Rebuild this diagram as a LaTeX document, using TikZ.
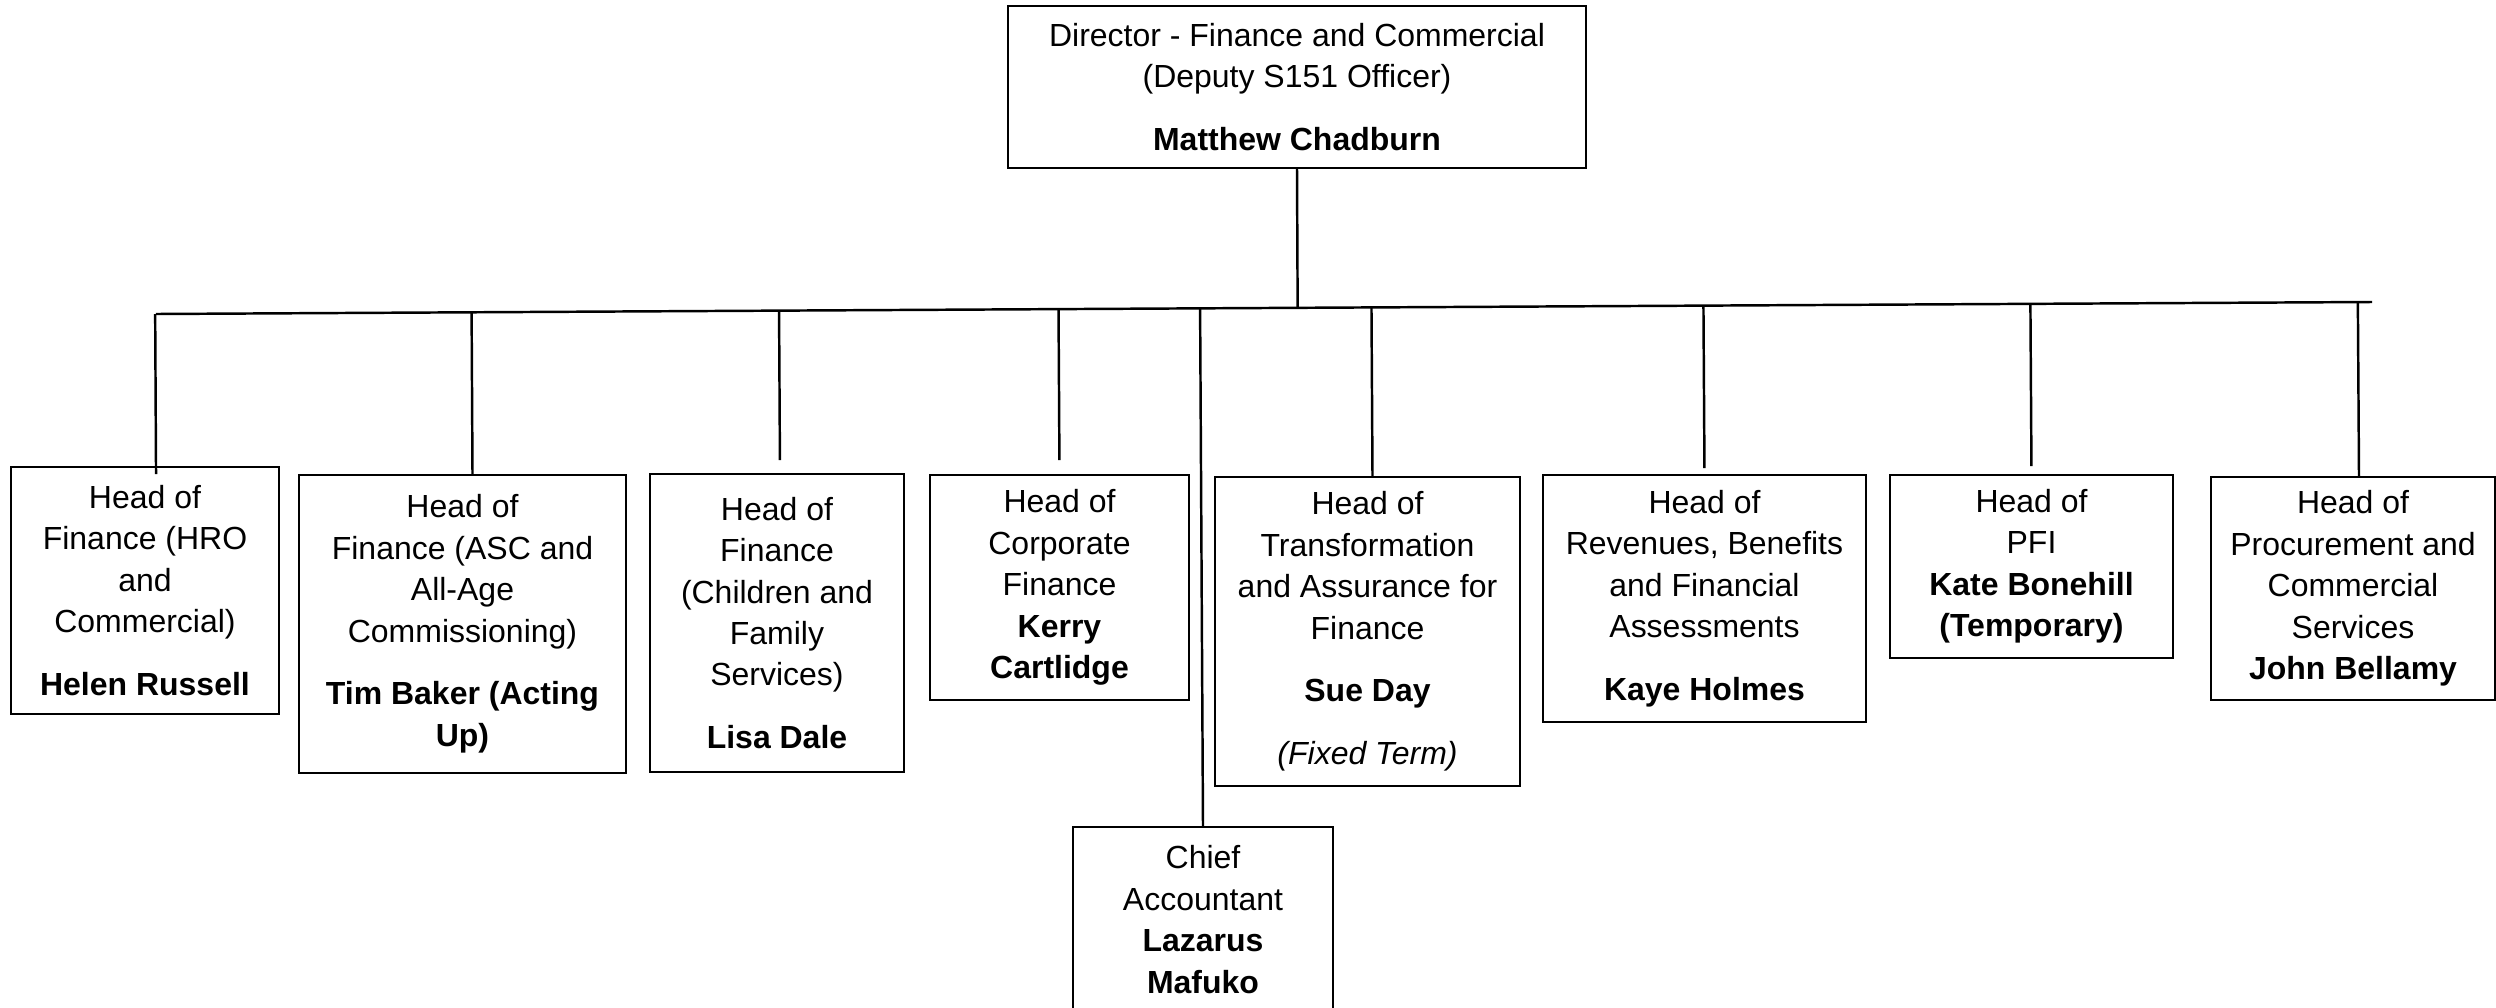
\documentclass[tikz,border=0pt]{standalone}
\usepackage{fontspec}
\setmainfont{Liberation Sans}
\usetikzlibrary{calc}

\begin{document}
\begin{tikzpicture}[
    box/.style={draw,line width=0.5pt,align=center,inner sep=2pt,anchor=north,font=\fontsize{9.1}{11.8}\selectfont},
    link/.style={line width=0.7pt}
  ]

    \useasboundingbox (0,0) rectangle (24.96,-10.07);

    % 顶部节点
    \node[box,minimum width=5.78cm,minimum height=1.62cm] (dir) at (12.97,-0.05)
        {Director - Finance and Commercial\\(Deputy S151 Officer)\\[6pt]\textbf{Matthew Chadburn}};

    % 下属节点
    \node[box,minimum width=2.68cm,minimum height=2.47cm] (hro) at (1.45,-4.66)
        {Head of\\Finance (HRO\\and\\Commercial)\\[6pt]\textbf{Helen Russell}};
    \node[box,minimum width=3.27cm,minimum height=2.98cm] (asc) at (4.625,-4.74)
        {Head of\\Finance (ASC and\\All-Age\\Commissioning)\\[6pt]\textbf{Tim Baker (Acting}\\\textbf{Up)}};
    \node[box,minimum width=2.54cm,minimum height=2.98cm] (cfs) at (7.77,-4.73)
        {Head of\\Finance\\(Children and\\Family\\Services)\\[6pt]\textbf{Lisa Dale}};
    \node[box,minimum width=2.59cm,minimum height=2.25cm] (corp) at (10.595,-4.74)
        {Head of\\Corporate\\Finance\\\textbf{Kerry}\\\textbf{Cartlidge}};
    \node[box,minimum width=2.60cm,minimum height=1.85cm] (chief) at (12.03,-8.26)
        {Chief\\Accountant\\\textbf{Lazarus}\\\textbf{Mafuko}};
    \node[box,minimum width=3.05cm,minimum height=3.09cm] (trans) at (13.675,-4.76)
        {Head of\\Transformation\\and Assurance for\\Finance\\[6pt]\textbf{Sue Day}\\[6pt]\textit{(Fixed Term)}};
    \node[box,minimum width=3.23cm,minimum height=2.47cm] (rev) at (17.045,-4.74)
        {Head of\\Revenues, Benefits\\and Financial\\Assessments\\[6pt]\textbf{Kaye Holmes}};
    \node[box,minimum width=2.83cm,minimum height=1.83cm] (pfi) at (20.315,-4.74)
        {Head of\\PFI\\\textbf{Kate Bonehill}\\\textbf{(Temporary)}};
    \node[box,minimum width=2.84cm,minimum height=2.23cm] (proc) at (23.53,-4.76)
        {Head of\\Procurement and\\Commercial\\Services\\\textbf{John Bellamy}};

    % 横线
    \coordinate (busL) at (1.56,-3.14);
    \coordinate (busR) at (23.72,-3.02);
    \draw[link] (busL) -- (busR);
    \draw[link] (dir.south) -- ($(busL)!(dir.south)!(busR)$);

    % 竖线
    \foreach \n/\dx/\s in {hro/0.11/-0.08,asc/0.10/0,cfs/0.03/0.13,corp/0/0.14,chief/0/0,trans/0.05/0,rev/0/0.06,pfi/0/0.08,proc/0.06/0} {
            \draw[link,shorten >=\s cm] ($(busL)!([xshift=\dx cm]\n.north)!(busR)$) -- ([xshift=\dx cm]\n.north);
        }

\end{tikzpicture}
\end{document}
